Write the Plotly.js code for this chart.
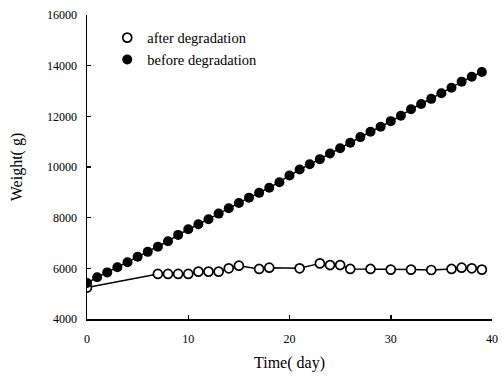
<!DOCTYPE html>
<html>
<head>
<meta charset="utf-8">
<script src="https://cdn.plot.ly/plotly-3.0.1.min.js"></script>
<style>html,body{margin:0;padding:0;background:#fff;}#chart{width:504px;height:377px;}</style>
</head>
<body>
<div id="chart"></div>
<script>
const beforeDays = [0,1,2,3,4,5,6,7,8,9,10,11,12,13,14,15,16,17,18,19,20,21,22,23,24,25,26,27,28,29,30,31,32,33,34,35,36,37,38,39];
const beforeWeight = [5420,5650,5840,6040,6240,6460,6650,6850,7070,7320,7545,7740,7940,8160,8370,8580,8790,8980,9180,9400,9665,9900,10110,10310,10530,10740,10960,11180,11390,11590,11810,12020,12280,12490,12690,12910,13130,13370,13565,13750];
const afterDays = [0,7,8,9,10,11,12,13,14,15,17,18,21,23,24,25,26,28,30,32,34,36,37,38,39];
const afterWeight = [5240,5780,5780,5780,5780,5870,5870,5870,6000,6105,5975,6025,6000,6195,6130,6130,5975,5975,5950,5950,5935,5975,6025,6000,5950];
const xTicks = [0,10,20,30,40];
const yTicks = [4000,6000,8000,10000,12000,14000,16000];

const font = {family: 'Liberation Serif, Times New Roman, serif', color: '#000'};

const traces = [
  {x: afterDays, y: afterWeight, mode: 'lines', line: {color: '#000', width: 1.5}, showlegend: false, hoverinfo: 'skip'},
  {x: beforeDays, y: beforeWeight, mode: 'lines', line: {color: '#000', width: 1.5}, showlegend: false, hoverinfo: 'skip'},
  {x: afterDays, y: afterWeight, mode: 'markers', name: 'after degradation',
   marker: {symbol: 'circle', size: 9, color: '#fff', line: {color: '#000', width: 1.7}}},
  {x: beforeDays, y: beforeWeight, mode: 'markers', name: 'before degradation',
   marker: {symbol: 'circle', size: 10, color: '#000', line: {color: '#000', width: 0}}}
];

const layout = {
  width: 504, height: 377,
  margin: {l: 87, r: 12, t: 15, b: 58},
  paper_bgcolor: '#fff', plot_bgcolor: '#fff',
  font: font,
  showlegend: true,
  legend: {x: 0.05, y: 0.978, xanchor: 'left', yanchor: 'top', bgcolor: 'rgba(0,0,0,0)',
           font: {family: font.family, size: 14.5, color: '#000'}, tracegroupgap: 0, itemwidth: 30},
  xaxis: {
    range: [0, 40], tickvals: xTicks, ticktext: xTicks.map(String),
    showline: true, linecolor: '#000', linewidth: 1.5, mirror: false,
    ticks: 'inside', ticklen: 4, tickcolor: '#000', tickwidth: 1.5,
    showgrid: false, zeroline: false,
    tickfont: {family: font.family, size: 12, color: '#000'},
    ticklabelstandoff: 8,
    title: {text: 'Time( day)', font: {family: font.family, size: 16, color: '#000'}, standoff: 12}
  },
  yaxis: {
    range: [4000, 16000], tickvals: yTicks, ticktext: yTicks.map(String),
    showline: true, linecolor: '#000', linewidth: 1.5, mirror: false,
    ticks: 'inside', ticklen: 4, tickcolor: '#000', tickwidth: 1.5,
    showgrid: false, zeroline: false,
    tickfont: {family: font.family, size: 12, color: '#000'},
    ticklabelstandoff: 6,
    title: {text: 'Weight( g)', font: {family: font.family, size: 16, color: '#000'}, standoff: 20}
  }
};

Plotly.newPlot('chart', traces, layout, {staticPlot: true, displayModeBar: false});
</script>
</body>
</html>
